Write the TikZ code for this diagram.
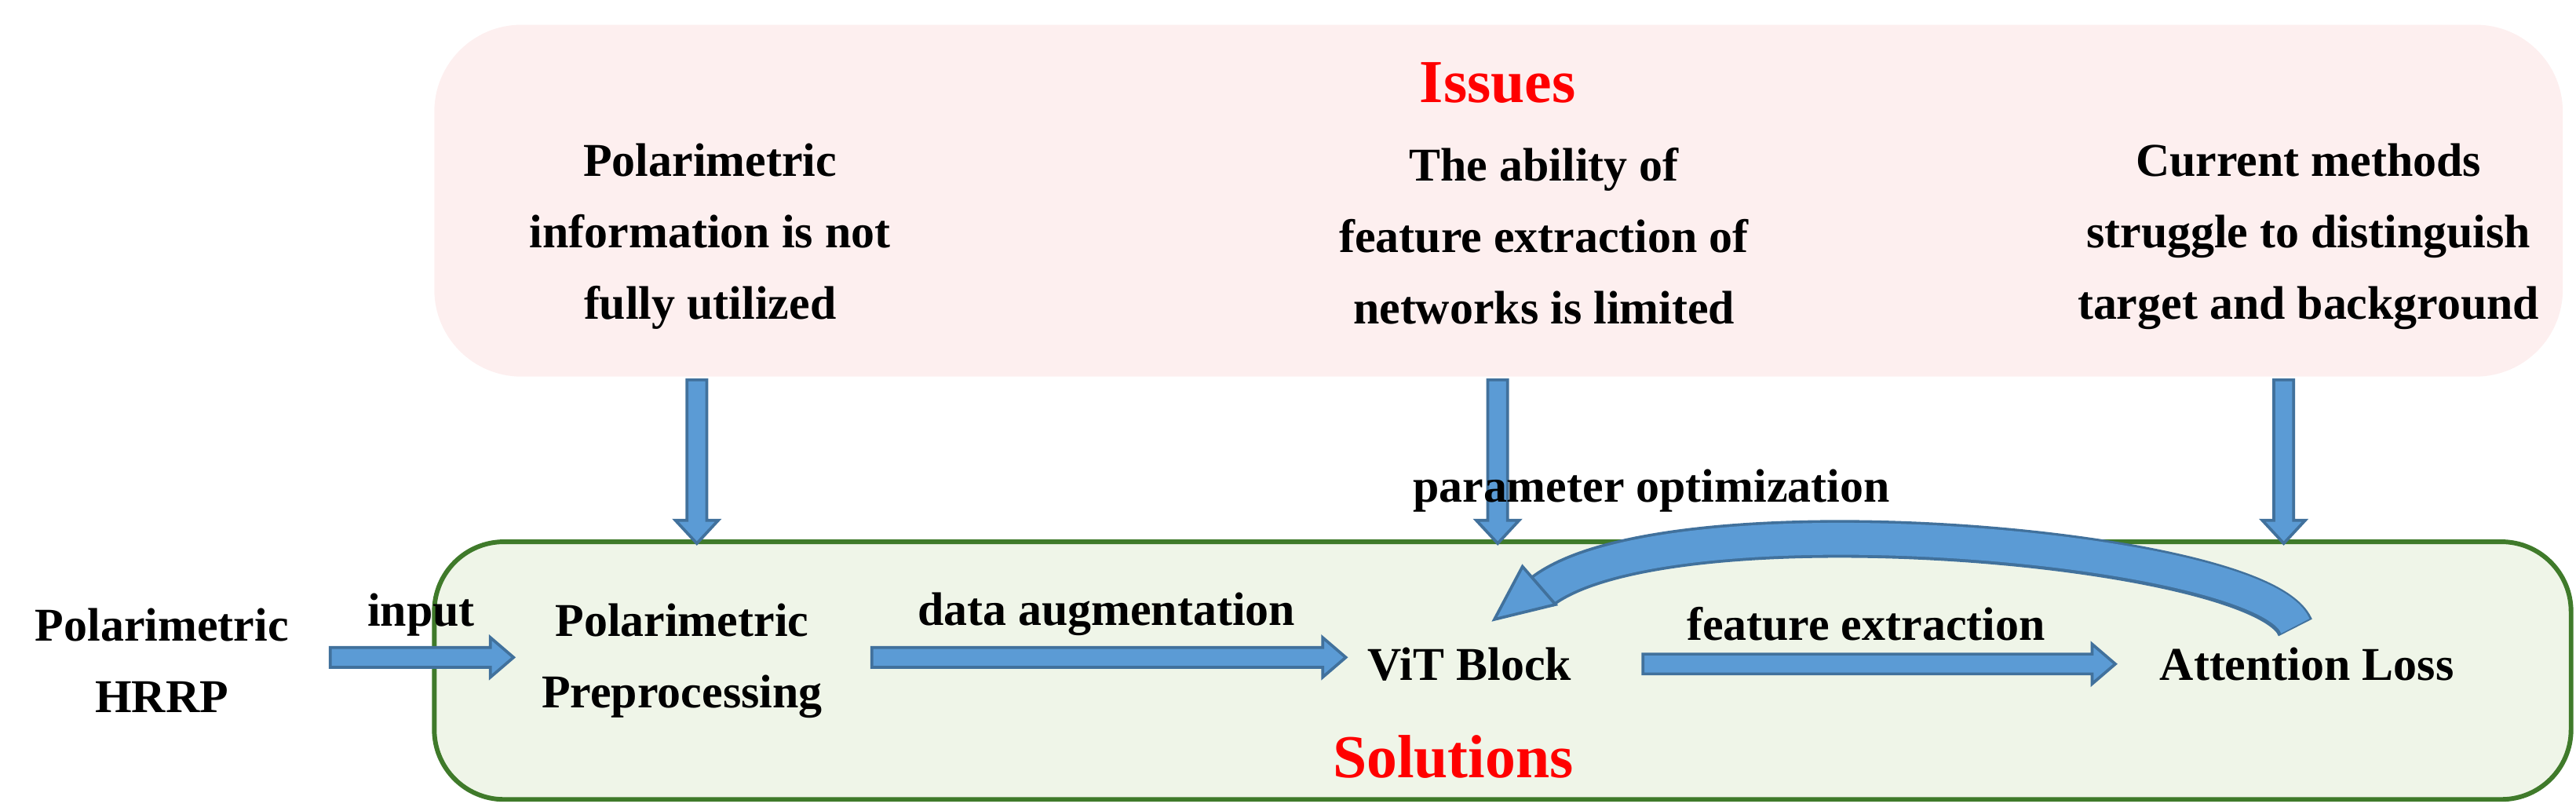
\documentclass[tikz,border=0pt]{standalone}
\usepackage{fontspec}
\setmainfont{Liberation Serif}
\usetikzlibrary{shapes.arrows,arrows.meta}
\definecolor{ablue}{HTML}{5B9BD5}
\definecolor{aedge}{HTML}{41719C}
\definecolor{pinkbg}{HTML}{FDEFEF}
\definecolor{greenbg}{HTML}{EFF5E8}
\definecolor{gedge}{HTML}{3F7A2A}
\begin{document}
\begin{tikzpicture}[x=0.01cm,y=-0.01cm,
 txt/.style={font=\bfseries\fontsize{8.1}{12.3}\selectfont,align=center,inner sep=0},
 ttl/.style={font=\bfseries\fontsize{10.5}{12}\selectfont,text=red,inner sep=0},
 barr/.style={draw=aedge,fill=ablue,line width=0.5pt}]
\useasboundingbox (0,0) rectangle (1560,491);
\fill[pinkbg,rounded corners=15] (263,15) rectangle (1552,228);
\draw[gedge,fill=greenbg,line width=0.8pt,rounded corners=12] (263,328) rectangle (1557,484);
\node[ttl] (iss) at (907,50) {Issues};
\node[ttl] (sol) at (880,458) {Solutions};
\node[txt] (i1) at (430,143) {Polarimetric\\information is not\\fully utilized};
\node[txt] (i2) at (935,143) {The ability of\\feature extraction of\\networks is limited};
\node[txt] (i3) at (1398,143) {Current methods\\struggle to distinguish\\target and background};
\foreach \x in {422,907,1383}{
 \draw[barr] (\x-6,230) -- (\x+6,230) -- (\x+6,315) -- (\x+13,315) -- (\x,329) -- (\x-13,315) -- (\x-6,315) -- cycle;}
\node[txt] (h) at (98,400) {Polarimetric\\HRRP};
\node[txt] (pp) at (413,400) {Polarimetric\\Preprocessing};
\node[txt] (vit) at (890,402) {ViT Block};
\node[txt] (al) at (1397,402) {Attention Loss};
\node[txt] at (255,372) {input};
\node[txt] at (670,372) {data augmentation};
\node[txt] at (1130,378) {feature extraction};
\node[txt] at (1000,297) {parameter optimization};
\def\harr#1#2#3{\draw[barr] (#1,#3-6) -- (#2-14,#3-6) -- (#2-14,#3-12) -- (#2,#3) -- (#2-14,#3+12) -- (#2-14,#3+6) -- (#1,#3+6) -- cycle;}
\harr{200}{311}{398}
\harr{528}{815}{398}
\harr{995}{1281}{402}
\draw[aedge,line width=6.5pt] (1390,380) .. controls (1370,330) and (1010,300) .. (934,358);
\draw[ablue,line width=5.5pt] (1390,379) .. controls (1370,330) and (1010,300) .. (934,358);
\draw[barr] (942,366) -- (905,375) -- (922,343) -- cycle;
\end{tikzpicture}
\end{document}
